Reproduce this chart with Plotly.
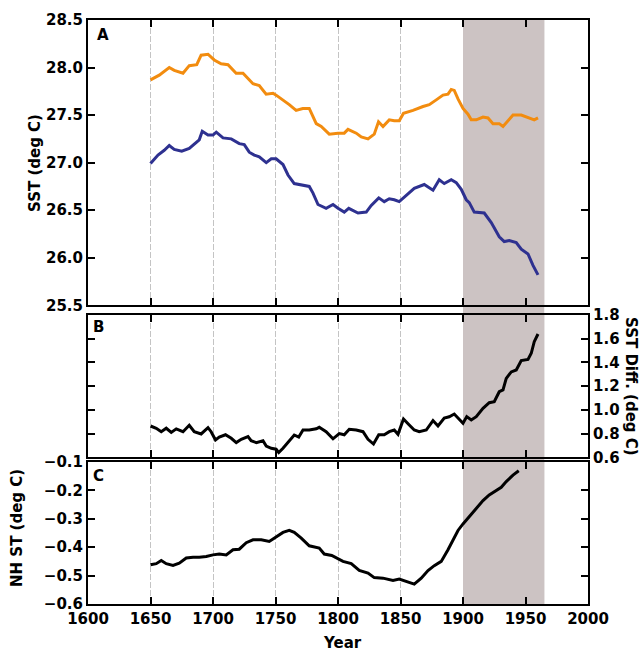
import plotly.graph_objects as go

# ---------------- data ----------------
years_orange = [1650, 1657, 1665, 1669, 1676, 1681, 1687, 1690.5, 1696, 1701, 1706.5, 1712, 1718.5, 1724,
                1732, 1737, 1742.5, 1748, 1750.5, 1756, 1761, 1766.5, 1771.8, 1777, 1782.6, 1786.6, 1793,
                1800, 1805, 1808, 1814.6, 1818.6, 1824, 1829, 1832.4, 1836, 1841, 1845, 1849, 1852.4, 1860,
                1868, 1873, 1878.6, 1884, 1888, 1890.6, 1893, 1896, 1900, 1904, 1906.6, 1910.6, 1916, 1920,
                1924, 1929, 1932, 1936, 1940, 1946.6, 1953, 1957, 1960]
sst_orange = [27.87, 27.92, 28.00, 27.97, 27.94, 28.02, 28.03, 28.13, 28.14, 28.08, 28.04, 28.03, 27.94, 27.94,
              27.83, 27.81, 27.72, 27.73, 27.71, 27.66, 27.61, 27.55, 27.57, 27.57, 27.41, 27.38, 27.30,
              27.31, 27.31, 27.35, 27.31, 27.27, 27.25, 27.30, 27.43, 27.38, 27.45, 27.44, 27.44, 27.52, 27.55,
              27.59, 27.61, 27.66, 27.71, 27.72, 27.77, 27.76, 27.67, 27.57, 27.51, 27.45, 27.45, 27.48, 27.47,
              27.41, 27.41, 27.38, 27.44, 27.50, 27.50, 27.47, 27.45, 27.47]

years_blue = [1650, 1656, 1661, 1665, 1669, 1675, 1681, 1686.6, 1689, 1691.4, 1696, 1700, 1702.6, 1708,
              1714.6, 1721, 1725, 1729, 1733, 1737, 1742.6, 1746.6, 1750.5, 1756, 1760, 1765, 1772, 1777,
              1780, 1784, 1790.5, 1796, 1800, 1805, 1808.6, 1816, 1822.6, 1826.6, 1832.6, 1837, 1841, 1845,
              1849, 1854.6, 1861, 1869, 1876, 1881, 1885, 1890.6, 1894.6, 1898.6, 1902.6, 1905, 1909, 1917,
              1922.6, 1929, 1933, 1937, 1942.6, 1946.6, 1952, 1956, 1960]
sst_blue = [26.99, 27.08, 27.13, 27.18, 27.14, 27.12, 27.15, 27.21, 27.24, 27.33, 27.29, 27.29, 27.32, 27.26,
            27.25, 27.20, 27.19, 27.11, 27.08, 27.06, 27.00, 27.04, 27.04, 26.98, 26.87, 26.78, 26.76, 26.75,
            26.68, 26.56, 26.52, 26.56, 26.52, 26.48, 26.52, 26.47, 26.48, 26.55, 26.63, 26.59, 26.62, 26.61,
            26.59, 26.66, 26.73, 26.77, 26.71, 26.82, 26.78, 26.82, 26.79, 26.72, 26.61, 26.58, 26.48, 26.47,
            26.37, 26.22, 26.17, 26.18, 26.16, 26.09, 26.04, 25.92, 25.82]

years_diff = [1650, 1654.6, 1658.6, 1662.6, 1666.6, 1670.6, 1676, 1681, 1685, 1690.5, 1696, 1698.5, 1702,
              1705, 1710, 1714.6, 1718.6, 1722.6, 1728, 1730.5, 1734.6, 1740, 1742.6, 1746.6, 1750.5, 1752.6,
              1756, 1760, 1765, 1768.6, 1772, 1777, 1782.6, 1785, 1790.5, 1796, 1801, 1805, 1809, 1814.6,
              1820, 1824, 1828.4, 1832.6, 1837, 1841, 1845, 1848, 1852.4, 1857, 1861, 1865, 1870.6, 1876,
              1880, 1885, 1889, 1893, 1896, 1900, 1903, 1906.6, 1910.6, 1916, 1921, 1925, 1929, 1932,
              1934.6, 1938.6, 1942.6, 1946.6, 1952, 1954.6, 1957, 1960]
sst_diff = [0.864, 0.845, 0.816, 0.845, 0.81, 0.84, 0.816, 0.87, 0.816, 0.797, 0.85, 0.816, 0.746,
            0.77, 0.79, 0.76, 0.724, 0.752, 0.774, 0.74, 0.724, 0.74, 0.695, 0.676, 0.668, 0.64,
            0.676, 0.724, 0.788, 0.77, 0.83, 0.83, 0.84, 0.853, 0.816, 0.756, 0.80, 0.79, 0.836, 0.83,
            0.816, 0.752, 0.712, 0.79, 0.79, 0.816, 0.83, 0.794, 0.923, 0.873, 0.83, 0.816, 0.83, 0.91,
            0.864, 0.93, 0.942, 0.965, 0.93, 0.887, 0.943, 0.915, 0.943, 1.013, 1.06, 1.069, 1.153, 1.168,
            1.266, 1.32, 1.336, 1.415, 1.426, 1.477, 1.575, 1.64]

years_nh = [1650, 1654.6, 1658.6, 1662.6, 1668, 1673, 1678.6, 1684, 1689, 1694.6, 1700, 1705, 1710.6,
            1716, 1721, 1726.6, 1732, 1738.6, 1745, 1750.5, 1756, 1761, 1765, 1770.6, 1777, 1785, 1789,
            1795, 1799, 1804, 1810.6, 1817, 1824, 1829, 1836, 1844, 1849, 1854.6, 1861, 1866.6, 1872,
            1877, 1882.6, 1888, 1892.4, 1896, 1900, 1905, 1910.6, 1916, 1921, 1926.6, 1930.6, 1934.6,
            1940, 1944.6]
nh_st = [-0.462, -0.458, -0.447, -0.458, -0.464, -0.456, -0.438, -0.435, -0.435, -0.433, -0.427, -0.424,
         -0.427, -0.409, -0.407, -0.384, -0.374, -0.374, -0.380, -0.365, -0.348, -0.341, -0.348, -0.368,
         -0.395, -0.403, -0.424, -0.429, -0.438, -0.450, -0.458, -0.482, -0.491, -0.507, -0.509, -0.517,
         -0.512, -0.521, -0.530, -0.509, -0.482, -0.465, -0.450, -0.409, -0.371, -0.341, -0.318, -0.292,
         -0.266, -0.236, -0.216, -0.201, -0.189, -0.169, -0.146, -0.131]

shade_years = [1900, 1965]
x_range = [1600, 2000]
rangeA = [25.5, 28.5]
rangeB = [0.6, 1.8]
rangeC = [-0.6, -0.1]

# ---------------- layout helpers ----------------
W, H = 641, 652
L, R, T, B = 88, 53, 20, 48
PW, PH = W - L - R, H - T - B


def px_x(px):
    return (px - L) / PW


def px_y(py):
    return (H - B - py) / PH


def dom(top_px, bot_px):
    return [max(0.0, min(1.0, px_y(bot_px))), max(0.0, min(1.0, px_y(top_px)))]


FONT = "DejaVu Sans"
ORANGE = "#F28C0F"
BLUE = "#2E3190"
SHADE = "#CCC3C3"

fig = go.Figure()
fig.add_trace(go.Scatter(x=years_orange, y=sst_orange, mode="lines", line=dict(color=ORANGE, width=3),
                         xaxis="x", yaxis="y", showlegend=False))
fig.add_trace(go.Scatter(x=years_blue, y=sst_blue, mode="lines", line=dict(color=BLUE, width=3),
                         xaxis="x", yaxis="y", showlegend=False))
fig.add_trace(go.Scatter(x=years_diff, y=sst_diff, mode="lines", line=dict(color="black", width=3),
                         xaxis="x2", yaxis="y2", showlegend=False))
fig.add_trace(go.Scatter(x=years_nh, y=nh_st, mode="lines", line=dict(color="black", width=3),
                         xaxis="x3", yaxis="y3", showlegend=False))

tickfont = dict(family=FONT, size=15, color="black", weight="bold")
common_x = dict(range=x_range, tick0=1600, dtick=50, ticks="inside", ticklen=7, tickwidth=1.5,
                tickcolor="black", showline=True, linecolor="black", linewidth=2, mirror="ticks",
                showgrid=True, gridcolor="#c4c4c4", gridwidth=1, griddash="6px,2px", zeroline=False,
                tickfont=tickfont, domain=[0, 1])
common_y = dict(ticks="inside", ticklen=7, tickwidth=1.5, tickcolor="black", showline=True,
                linecolor="black", linewidth=2, mirror="ticks", showgrid=False, zeroline=False,
                tickfont=tickfont)

dA = dom(20, 305.3)
dB = dom(315, 457.3)
dC = dom(462, 604)

fig.update_layout(
    width=W, height=H,
    margin=dict(l=L, r=R, t=T, b=B),
    paper_bgcolor="white", plot_bgcolor="white",
    xaxis=dict(common_x, anchor="y", showticklabels=False),
    xaxis2=dict(common_x, anchor="y2", showticklabels=False, matches="x"),
    xaxis3=dict(common_x, anchor="y3", showticklabels=True, matches="x"),
    yaxis=dict(common_y, domain=dA, range=rangeA, dtick=0.5, tick0=25.5, tickformat=".1f", anchor="x"),
    yaxis2=dict(common_y, domain=dB, range=rangeB, dtick=0.2, tick0=0.6, tickformat=".1f",
                side="right", anchor="x2"),
    yaxis3=dict(common_y, domain=dC, range=rangeC, dtick=0.1, tick0=-0.6, tickformat=".1f", anchor="x3"),
    showlegend=False,
)

# shading: whole column (incl. gaps between panels) + per-panel above gridlines
fig.add_shape(type="rect", xref="x", yref="paper", x0=shade_years[0], x1=shade_years[1], y0=0, y1=1,
              fillcolor=SHADE, line=dict(width=0), layer="below")
for xr, yr, rng in [("x", "y", rangeA), ("x2", "y2", rangeB), ("x3", "y3", rangeC)]:
    fig.add_shape(type="rect", xref=xr, yref=yr, x0=shade_years[0], x1=shade_years[1],
                  y0=rng[0], y1=rng[1], fillcolor=SHADE, line=dict(width=0), layer="between")

lab = dict(family=FONT, size=15, color="black", weight="bold")
base = dict(xref="paper", yref="paper", showarrow=False, xanchor="center", yanchor="middle", font=lab)
ann = [
    dict(base, text="A", x=px_x(103), y=px_y(35)),
    dict(base, text="B", x=px_x(98), y=px_y(327)),
    dict(base, text="C", x=px_x(98), y=px_y(476)),
    dict(base, text="SST (deg C)", x=px_x(35), y=px_y(163), textangle=-90),
    dict(base, text="NH ST (deg C)", x=px_x(17), y=px_y(528), textangle=-90),
    dict(base, text="SST Diff. (deg C)", x=px_x(631), y=px_y(386), textangle=90),
    dict(base, text="Year", x=px_x(342), y=px_y(643)),
]
fig.update_layout(annotations=ann)

fig.write_html("out.html")
